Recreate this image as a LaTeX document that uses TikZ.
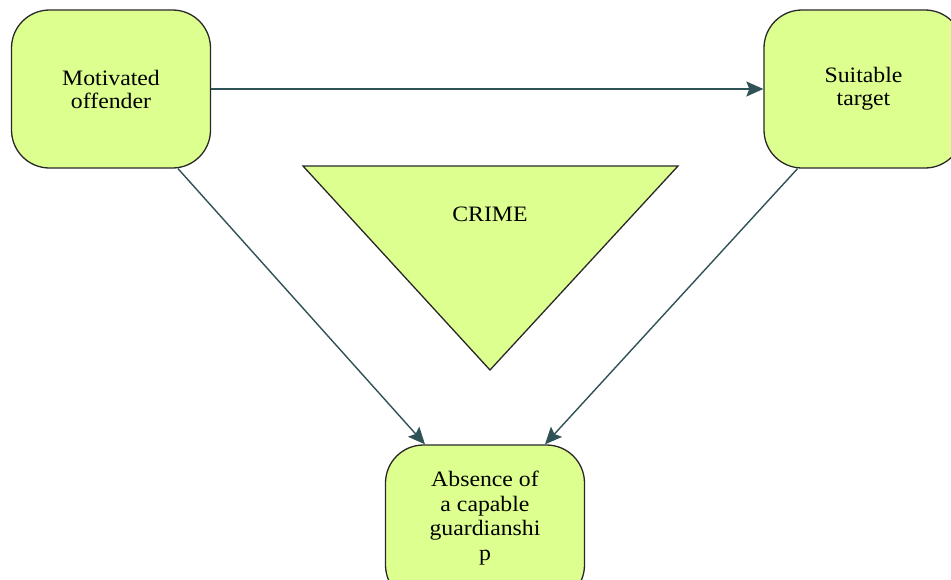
\documentclass[tikz,border=0pt]{standalone}
\usepackage{fontspec}
\setmainfont[FakeStretch=1.08]{Liberation Serif}
\usetikzlibrary{arrows.meta}
\definecolor{boxfill}{RGB}{221,255,143}
\definecolor{arrowcol}{RGB}{47,82,86}
\definecolor{edgecol}{RGB}{40,40,40}
\begin{document}
\begin{tikzpicture}[x=1pt,y=-1pt,
	factor/.style={draw=edgecol,line width=1.3pt,fill=boxfill,rounded corners=38pt,minimum width=199pt,minimum height=158pt,align=center,font=\fontsize{22}{23}\selectfont},
	link/.style={draw=arrowcol,line width=1.4pt,-{Stealth[length=17pt,width=15pt,inset=3pt]}}]
	\useasboundingbox (0,0) rectangle (951,579);
	\node [factor] (offender) at (111,89) {Motivated\\offender};
	\node [factor] (target) at (863.5,89) {Suitable\\target};
	\node [factor,font=\fontsize{22}{24.5}\selectfont,text depth=17pt] (guard) at (485,524) {Absence of\\a capable\\guardianshi\\p};
	\draw [edgecol,line width=1.3pt,fill=boxfill] (303,166) -- (678,166) -- (490,370) -- cycle;
	\node [font=\fontsize{22}{23}\selectfont] (crime) at (490,214) {CRIME};
	\draw [link] (offender) -- (target);
	\draw [link] ([xshift=67pt]offender.south) -- ([xshift=-60pt]guard.north);
	\draw [link] ([xshift=-66pt]target.south) -- ([xshift=60pt]guard.north);
\end{tikzpicture}
\end{document}
